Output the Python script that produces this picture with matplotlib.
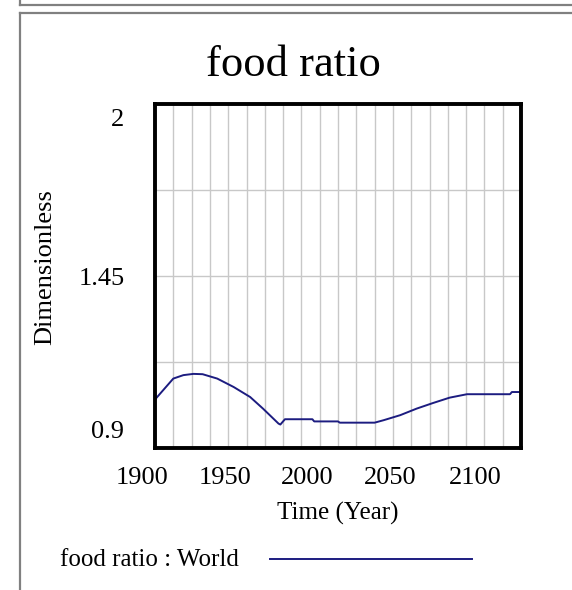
import matplotlib.pyplot as plt
from matplotlib.lines import Line2D
import matplotlib.transforms as mtransforms

# data
years = [1900, 1910, 1915.5, 1921, 1926, 1934, 1943, 1952, 1959, 1967.5, 1968.5,
         1971, 1986, 1987, 2000, 2001, 2020, 2025, 2034, 2043, 2052, 2061,
         2070.5, 2094, 2095, 2100]
food_ratio = [1.055, 1.122, 1.133, 1.137, 1.136, 1.122, 1.095, 1.063, 1.026, 0.978, 0.975,
              0.992, 0.992, 0.985, 0.985, 0.981, 0.981, 0.989, 1.005, 1.026, 1.044, 1.061,
              1.072, 1.072, 1.079, 1.079]
xticks = [1900, 1950, 2000, 2050, 2100]
yticks = [0.9, 1.45, 2]
ytick_labels = ['0.9', '1.45', '2']

plt.rcParams['font.family'] = ['Liberation Serif', 'DejaVu Serif']

fig = plt.figure(figsize=(5.72, 5.90), dpi=100)
W, H = 572, 590
ax = fig.add_axes([155 / W, 1 - 448 / H, (521 - 155) / W, (448 - 104) / H])

line, = ax.plot(years, food_ratio, color='#1c1c80', lw=1.4)

ax.set_xlim(1900, 2100)
ax.set_ylim(0.9, 2)

ax.set_xticks(xticks)
ax.set_xticklabels([str(x) for x in xticks], fontsize=19)
ax.set_yticks(yticks)
ax.set_yticklabels(ytick_labels, fontsize=19)

# grid: every 10 years, quarter steps on y
ax.set_xticks(range(1900, 2101, 10), minor=True)
ax.set_yticks([0.9 + 0.275 * i for i in range(5)], minor=True)
ax.grid(which='both', color='#c8c8c8', lw=1.0)
ax.tick_params(which='both', length=0)
ax.tick_params(axis='x', pad=14)
ax.tick_params(axis='y', pad=22)

# vensim style label shifts (pixels)
x_shift = [-13, -21, -31, -39, -46]
for lab, dx in zip(ax.get_xticklabels(), x_shift):
    lab.set_transform(lab.get_transform() + mtransforms.ScaledTranslation(dx / 100, 0, fig.dpi_scale_trans))
y_shift = [18, 0, -13]
for lab, dy in zip(ax.get_yticklabels(), y_shift):
    lab.set_transform(lab.get_transform() + mtransforms.ScaledTranslation(0, dy / 100, fig.dpi_scale_trans))

for s in ax.spines.values():
    s.set_linewidth(2.8)
    s.set_color('black')

ax.set_xlabel('Time (Year)', fontsize=18, labelpad=9)
fig.text(45 / W, 1 - 267 / H, 'Dimensionless', rotation=90, fontsize=19,
         ha='center', va='center')
fig.text(293 / W, 1 - 65 / H, 'food ratio', fontsize=32, ha='center', va='center')

# legend row
fig.text(60 / W, 1 - 560 / H, 'food ratio : World', fontsize=18, ha='left', va='center')
fig.add_artist(Line2D([270 / W, 472 / W], [1 - 559 / H, 1 - 559 / H],
                      color=line.get_color(), lw=line.get_linewidth()))

# window frame
frame = '#808080'
fig.add_artist(Line2D([20 / W, 1], [1 - 5 / H, 1 - 5 / H], color=frame, lw=1.6))
fig.add_artist(Line2D([20 / W, 1], [1 - 13 / H, 1 - 13 / H], color=frame, lw=1.6))
fig.add_artist(Line2D([20 / W, 20 / W], [1, 1 - 5 / H], color=frame, lw=1.6))
fig.add_artist(Line2D([20 / W, 20 / W], [1 - 13 / H, 0], color=frame, lw=1.6))

fig.savefig('out.png', dpi=100)
